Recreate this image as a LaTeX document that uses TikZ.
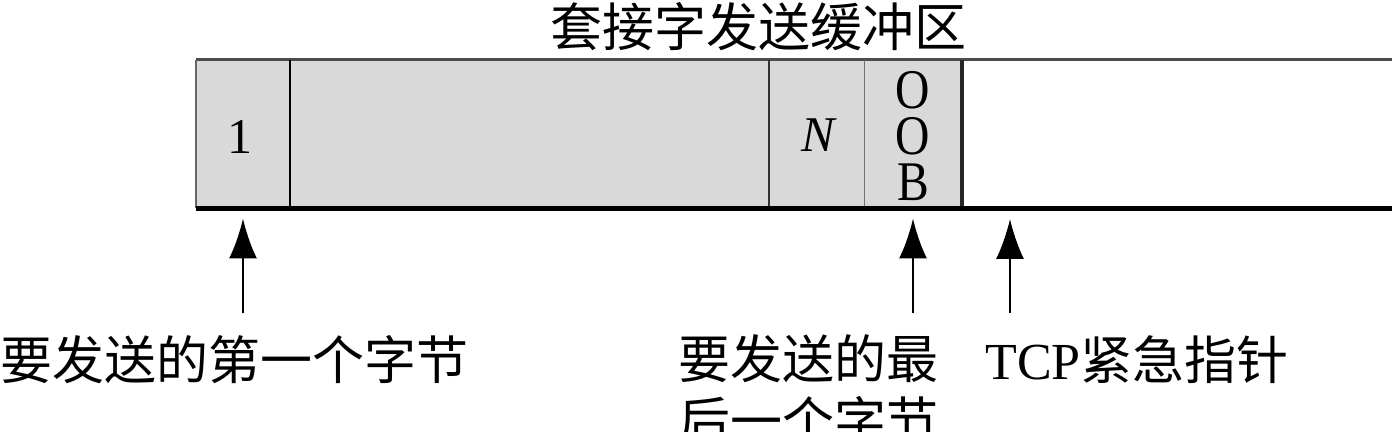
\documentclass[tikz,border=0pt]{standalone}
\usepackage{fontspec}
\setmainfont{Liberation Serif}
\newfontfamily\cjk{Noto Sans CJK SC}
\usetikzlibrary{arrows.meta}
\begin{document}
\begin{tikzpicture}[x=0.5pt,y=-0.5pt,
  cell/.style={fill=cellgray,inner sep=0pt,minimum height=74pt},
  arr/.style={line width=1.4pt,-{Latex[length=20pt,width=14pt]},shorten >=5pt},
  lab/.style={font=\cjk\fontsize{26pt}{31pt}\selectfont,inner sep=0pt},
  lettr/.style={font=\fontsize{25pt}{25pt}\selectfont,inner sep=0pt},
  oob/.style={font=\fontsize{28pt}{28pt}\selectfont,inner sep=0pt,xscale=0.85}]
\definecolor{cellgray}{RGB}{217,217,217}
\useasboundingbox (0,0) rectangle (1392,432);
% cells
\node[cell,minimum width=47pt] (c1) at (243,134) {};
\node[cell,minimum width=239.5pt] (cm) at (529.5,134) {};
\node[cell,minimum width=47.5pt] (cn) at (816.5,134) {};
\node[cell,minimum width=49pt] (co) at (913,134) {};
\node[inner sep=0pt,minimum width=215pt,minimum height=74pt] (free) at (1177,134) {};
% borders
\draw[line width=1.2pt,draw=black!70] (c1.north west) -- (free.north east);
\draw[line width=1pt,draw=black!60] (c1.north west) -- (c1.south west);
\draw[line width=1pt] (c1.north east) -- (c1.south east);
\draw[line width=1pt,draw=black!80] (cm.north east) -- (cm.south east);
\draw[line width=0.8pt,draw=black!55] (cn.north east) -- (cn.south east);
\draw[line width=2pt,draw=black!85] (co.north east) -- (co.south east);
\draw[line width=2.8pt] (c1.south west) -- (free.south east);
% cell texts
\node[lettr] (t1lbl) at (240,137) {1};
\node[lettr] (tnlbl) at (818,135) {\itshape N};
\node[oob,anchor=base] (o1) at (913,109) {O};
\node[oob,anchor=base] (o2) at (913,155) {O};
\node[oob,anchor=base] (o3) at (913,201) {B};
% title
\node[lab] (title) at (758,27) {套接字发送缓冲区};
% labels
\node[lab,anchor=west] (l1) at (0,360) {要发送的第一个字节};
\node[lab,anchor=north west,align=left] (l2) at (678,334) {要发送的最\\后一个字节};
\node[lab,anchor=west,font=\fontsize{26pt}{31pt}\selectfont] (l3) at (985,360) {TCP{\cjk 紧急指针}};
% arrow tails
\coordinate (t1) at (243,313);
\coordinate (t2) at (913,313);
\coordinate (t3) at (1010,313);
\coordinate (h3) at (1010,209);
\draw[arr] (t1) -- (c1.south);
\draw[arr] (t2) -- (co.south);
\draw[arr,line width=1pt] (t3) -- (h3);
\end{tikzpicture}
\end{document}
